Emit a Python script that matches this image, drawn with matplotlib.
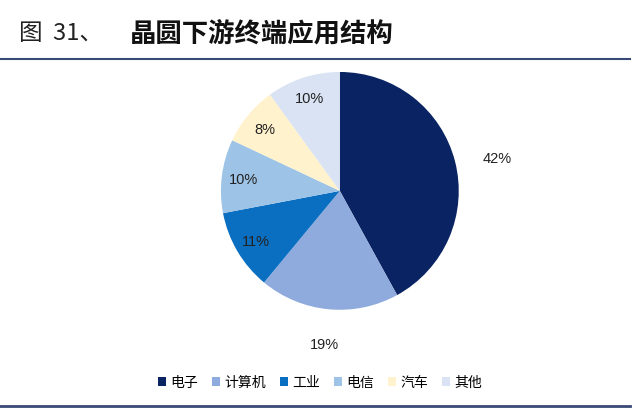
import matplotlib
matplotlib.use("Agg")
import matplotlib.pyplot as plt
import numpy as np

plt.rcParams['font.family'] = ['Noto Sans CJK SC', 'DejaVu Sans']

categories = ['电子', '计算机', '工业', '电信', '汽车', '其他']
shares = [42, 19, 11, 10, 8, 10]
colors = ['#0A2463', '#8FAADC', '#0B6FC1', '#9DC3E6', '#FFF2CC', '#DAE3F3']
outside = [True, True, False, False, False, False]

fig = plt.figure(figsize=(6.4, 4.1), dpi=100)

# title and rules
fig.text(0.03, 0.918, '图  31、', fontsize=17, color='#222222', va='center')
fig.text(0.203, 0.918, '晶圆下游终端应用结构', fontsize=19, fontweight='bold',
         color='#111111', va='center')
fig.add_artist(plt.Line2D([0, 0.985], [0.853, 0.853], color='#3A4A78', lw=1.5))
fig.add_artist(plt.Line2D([0, 0.985], [0.008, 0.008], color='#3A4A78', lw=2))

ax = fig.add_axes([0.345, 0.242, 0.372, 0.580])
wedges, texts, autotexts = ax.pie(
    shares, colors=colors, startangle=90, counterclock=False,
    autopct='%d%%', pctdistance=0.82,
    textprops={'fontsize': 10.5, 'color': '#222222', 'family': 'Liberation Sans'},
    wedgeprops={'linewidth': 0})
ax.set_aspect('equal')
ax.set_xlim(-1, 1)
ax.set_ylim(-1, 1)

# the two big slices carry their labels outside the pie
for w, t, out in zip(wedges, autotexts, outside):
    if out:
        ang = np.deg2rad((w.theta1 + w.theta2) / 2)
        ry = 1.12 if np.sin(ang) > 0 else 1.29
        t.set_position((1.37 * np.cos(ang), ry * np.sin(ang)))

leg = fig.legend(wedges, categories, loc='center', bbox_to_anchor=(0.5, 0.065),
                 ncol=6, frameon=False, fontsize=10, handlelength=0.6,
                 handleheight=0.6, handletextpad=0.3, columnspacing=1.0)

fig.savefig('out.png', dpi=100)
